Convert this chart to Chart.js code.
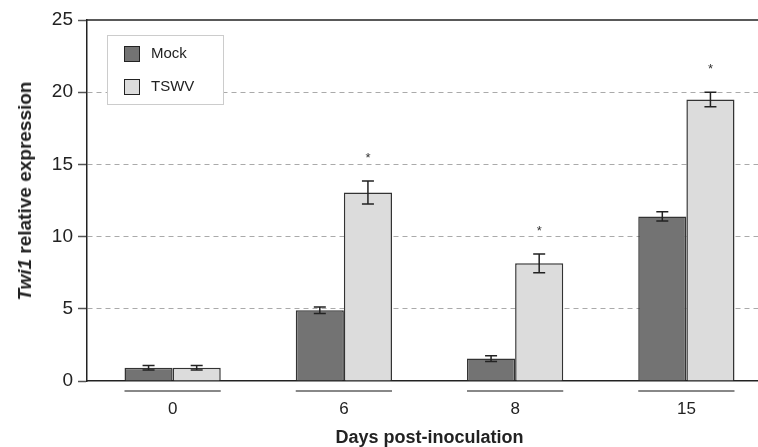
<!DOCTYPE html>
<html>
<head>
<meta charset="utf-8">
<script src="https://cdn.jsdelivr.net/npm/chart.js@4"></script>
<style>
  html, body { margin: 0; padding: 0; background: #fff; overflow: hidden; }
  #wrap { position: relative; width: 758px; height: 447px; overflow: hidden; }
  #chart { position: absolute; left: 0; top: 0; }
  #ytitle {
    position: absolute; left: 25px; top: 191px;
    transform: translate(-50%, -50%) rotate(-90deg);
    white-space: nowrap; color: #222;
    font: bold 19px "Liberation Sans", Arial, sans-serif;
  }
</style>
</head>
<body>
<div id="wrap">
  <canvas id="chart" width="772" height="447"></canvas>
  <div id="ytitle"><i>Twi1</i> relative expression</div>
</div>
<script>
  // Data
  const days = ['0', '6', '8', '15'];
  const mockValues = [0.92, 4.9, 1.55, 11.4];
  const mockErrors = [0.15, 0.22, 0.2, 0.32];
  const tswvValues = [0.92, 13.05, 8.15, 19.5];
  const tswvErrors = [0.15, 0.8, 0.65, 0.5];
  const tswvSignificant = [false, true, true, true];
  const yTicks = [0, 5, 10, 15, 20, 25];

  Chart.defaults.font.family = '"Liberation Sans", Arial, sans-serif';
  Chart.defaults.color = '#222';

  // error bars + significance stars
  const errorBars = {
    id: 'errorBars',
    afterDatasetsDraw(chart) {
      const ctx = chart.ctx, y = chart.scales.y;
      chart.data.datasets.forEach((ds, i) => {
        chart.getDatasetMeta(i).data.forEach((bar, j) => {
          const top = y.getPixelForValue(ds.data[j] + ds.errors[j]);
          const bot = y.getPixelForValue(ds.data[j] - ds.errors[j]);
          ctx.save();
          ctx.strokeStyle = '#222';
          ctx.lineWidth = 1.5;
          ctx.beginPath();
          ctx.moveTo(bar.x, top); ctx.lineTo(bar.x, bot);
          ctx.moveTo(bar.x - 6, top); ctx.lineTo(bar.x + 6, top);
          ctx.moveTo(bar.x - 6, bot); ctx.lineTo(bar.x + 6, bot);
          ctx.stroke();
          if (ds.stars && ds.stars[j]) {
            ctx.fillStyle = '#333';
            ctx.font = '13px "Liberation Sans", Arial, sans-serif';
            ctx.textAlign = 'center';
            ctx.textBaseline = 'alphabetic';
            ctx.fillText('*', bar.x, top - 19);
          }
          ctx.restore();
        });
      });
    }
  };

  // top frame line, group underlines, legend box
  const extras = {
    id: 'extras',
    afterDraw(chart) {
      const ctx = chart.ctx, area = chart.chartArea;
      ctx.save();
      ctx.strokeStyle = '#222';
      ctx.lineWidth = 1.5;
      ctx.beginPath();
      ctx.moveTo(area.left, area.top);
      ctx.lineTo(area.right, area.top);
      ctx.stroke();

      const m0 = chart.getDatasetMeta(0), m1 = chart.getDatasetMeta(1);
      ctx.strokeStyle = '#888';
      ctx.lineWidth = 2;
      days.forEach((d, j) => {
        const a = m0.data[j], b = m1.data[j];
        ctx.beginPath();
        ctx.moveTo(a.x - a.width / 2, area.bottom + 10);
        ctx.lineTo(b.x + b.width / 2, area.bottom + 10);
        ctx.stroke();
      });

      // legend
      const lx = area.left + 20, ly = area.top + 15;
      ctx.fillStyle = '#fff';
      ctx.fillRect(lx, ly, 116, 69);
      ctx.strokeStyle = '#ccc';
      ctx.lineWidth = 1;
      ctx.strokeRect(lx + 0.5, ly + 0.5, 116, 69);
      ctx.font = '15px "Liberation Sans", Arial, sans-serif';
      ctx.textBaseline = 'middle';
      ctx.textAlign = 'left';
      chart.data.datasets.forEach((ds, i) => {
        const sy = ly + 11 + i * 33;
        ctx.fillStyle = ds.backgroundColor;
        ctx.fillRect(lx + 17, sy, 16, 16);
        ctx.strokeStyle = '#222';
        ctx.lineWidth = 1;
        ctx.strokeRect(lx + 17.5, sy + 0.5, 15, 15);
        ctx.fillStyle = '#222';
        ctx.fillText(ds.label, lx + 44, sy + 8);
      });
      ctx.restore();
    }
  };

  const ctx = document.getElementById('chart').getContext('2d');
  new Chart(ctx, {
    type: 'bar',
    data: {
      labels: days,
      datasets: [{
        label: 'Mock',
        data: mockValues,
        errors: mockErrors,
        backgroundColor: '#737373',
        borderColor: '#333',
        borderWidth: 1.5
      }, {
        label: 'TSWV',
        data: tswvValues,
        errors: tswvErrors,
        stars: tswvSignificant,
        backgroundColor: '#dcdcdc',
        borderColor: '#333',
        borderWidth: 1.5
      }]
    },
    options: {
      responsive: false,
      animation: false,
      categoryPercentage: 0.562,
      barPercentage: 1,
      layout: { padding: { top: 20, right: 0, left: 0, bottom: 0 } },
      plugins: {
        legend: { display: false },
        tooltip: { enabled: false }
      },
      scales: {
        x: {
          offset: true,
          grid: { display: false, drawTicks: false },
          border: { display: true, color: '#222', width: 1.5 },
          ticks: { font: { size: 17 }, padding: 18, color: '#222' },
          title: {
            display: true,
            text: 'Days post-inoculation',
            font: { size: 18, weight: 'bold', lineHeight: 1 },
            padding: { top: 0, bottom: 0 },
            color: '#222'
          },
          afterFit: (scale) => { scale.height = 66; }
        },
        y: {
          min: 0,
          max: 25,
          afterBuildTicks: (scale) => { scale.ticks = yTicks.map(v => ({ value: v })); },
          ticks: { font: { size: 19 }, padding: 5, color: '#222' },
          grid: {
            color: (c) => (c.tick && (c.tick.value === 0 || c.tick.value === 25)) ? 'rgba(0,0,0,0)' : '#aaa',
            lineWidth: 1,
            tickColor: '#555',
            tickLength: 9,
            tickWidth: 1.5
          },
          border: { color: '#222', width: 1.5, dash: [5, 4] },
          afterFit: (scale) => { scale.width = 87; }
        }
      }
    },
    plugins: [errorBars, extras]
  });
</script>
</body>
</html>
